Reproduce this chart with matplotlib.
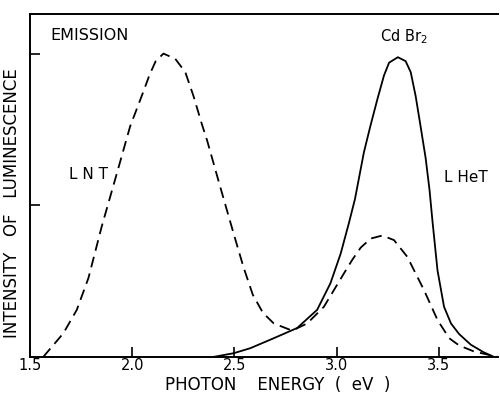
import numpy as np
import matplotlib
matplotlib.use("Agg")
import matplotlib.pyplot as plt

# LNT emission (dashed)
lnt_e = [1.565, 1.663, 1.729, 1.786, 1.851, 1.925, 1.99, 2.055, 2.085, 2.115,
         2.153, 2.211, 2.26, 2.30, 2.342, 2.366, 2.431, 2.497, 2.545, 2.59, 2.64, 2.693, 2.783,
         2.856, 2.938, 3.036, 3.077, 3.118, 3.167, 3.224, 3.281, 3.346, 3.428, 3.494, 3.551,
         3.6, 3.673, 3.788]
lnt_i = [0.0, 0.155, 0.31, 0.52, 0.86, 1.21, 1.52, 1.75, 1.86, 1.95,
         2.0, 1.965, 1.877, 1.72, 1.53, 1.43, 1.12, 0.81, 0.59, 0.41, 0.29, 0.22, 0.173,
         0.22, 0.33, 0.55, 0.64, 0.72, 0.78, 0.80, 0.77, 0.66, 0.44, 0.243, 0.123,
         0.075, 0.035, 0.0]

# LHeT emission (solid)
lhet_e = [2.40, 2.497, 2.578, 2.693, 2.807, 2.905, 2.97, 3.02, 3.06, 3.09, 3.134, 3.167,
          3.2, 3.232, 3.257, 3.30, 3.338, 3.363, 3.387, 3.41, 3.436, 3.455, 3.469, 3.494,
          3.526, 3.56, 3.60, 3.657, 3.72, 3.77]
lhet_i = [0.0, 0.024, 0.057, 0.123, 0.19, 0.31, 0.485, 0.68, 0.88, 1.04, 1.35, 1.53,
          1.70, 1.855, 1.94, 1.976, 1.95, 1.877, 1.72, 1.53, 1.31, 1.10, 0.90, 0.57,
          0.33, 0.22, 0.15, 0.08, 0.03, 0.0]

xticks = [1.5, 2.0, 2.5, 3.0, 3.5]
xticklabels = ["1.5", "2.0", "2.5", "3.0", "3.5"]

fig = plt.figure(figsize=(5, 3.93), dpi=100)
ax = fig.add_axes([0.06, 0.092, 0.936, 0.872])

ax.plot(lnt_e, lnt_i, color="black", lw=1.3, ls=(0, (6, 3.5)),
        dash_joinstyle="round", dash_capstyle="butt")
ax.plot(lhet_e, lhet_i, color="black", lw=1.3, solid_joinstyle="round")

ax.set_xlim(1.5, 3.79)
ax.set_ylim(0, 2.26)
ax.set_xticks(xticks)
ax.set_xticklabels(xticklabels, fontsize=10.5)
ax.set_yticks([1, 2])
ax.set_yticklabels([])
ax.tick_params(direction="in", length=7, width=1.2, pad=1)
ax.spines["right"].set_visible(False)
for s in ["left", "bottom", "top"]:
    ax.spines[s].set_linewidth(1.4)

ax.set_xlabel("PHOTON    ENERGY  (  eV  )", fontsize=12, labelpad=0)
ax.xaxis.set_label_coords(0.53, -0.055)
ax.set_ylabel("INTENSITY   OF   LUMINESCENCE", fontsize=12, labelpad=3)
ax.yaxis.set_label_coords(-0.019, 0.45)

ax.text(1.6, 2.12, "EMISSION", fontsize=11.5, va="center", ha="left")
ax.text(3.33, 2.11, r"Cd Br$_2$", fontsize=10.5, va="center", ha="center")
ax.text(1.69, 1.2, "L N T", fontsize=11, va="center", ha="left")
ax.text(3.525, 1.18, "L HeT", fontsize=11, va="center", ha="left")

fig.savefig("out.png", dpi=100)
